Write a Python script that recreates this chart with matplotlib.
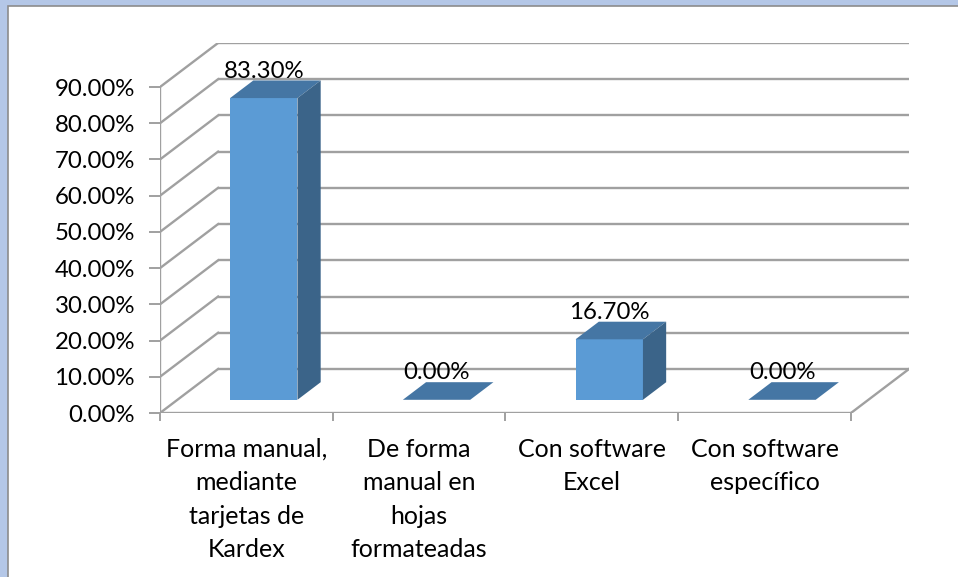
import numpy as np
import matplotlib
matplotlib.use("Agg")
import matplotlib.pyplot as plt
from matplotlib.patches import Polygon, Rectangle

plt.rcParams['font.family'] = ['Lato', 'DejaVu Sans']

categories = ["Forma manual,\nmediante\ntarjetas de\nKardex",
              "De forma\nmanual en\nhojas\nformateadas",
              "Con software\nExcel",
              "Con software\nespecífico"]
values = [83.30, 0.00, 16.70, 0.00]
value_labels = ["83.30%", "0.00%", "16.70%", "0.00%"]
yticks = [0, 10, 20, 30, 40, 50, 60, 70, 80, 90]
ytick_labels = ["0.00%", "10.00%", "20.00%", "30.00%", "40.00%",
                "50.00%", "60.00%", "70.00%", "80.00%", "90.00%"]

W, H = 958, 577
fig = plt.figure(figsize=(W / 100, H / 100), dpi=100)
fig.patch.set_facecolor('#B4C7E7')
bg = fig.add_axes([0, 0, 1, 1], zorder=-5)
bg.set_xlim(0, W)
bg.set_ylim(H, 0)
bg.axis('off')
bg.add_patch(Rectangle((8, 6), W, H, facecolor='white', edgecolor='#8C8C8C', lw=1.2))

# 3D projection parameters (data units)
DX = 0.336   # depth offset in category units
DY = 12.15   # depth offset in percent units
d0, d1 = 0.30, 0.70
bw = 0.39
n = len(categories)
ymax = yticks[-1]

left, right, bottom, top = 160 / W, 909 / W, (H - 413) / H, (H - 43) / H
ax = fig.add_axes([left, bottom, right - left, top - bottom], zorder=1)
ax.set_xlim(0, n + DX)
ax.set_ylim(0, ymax + DY)
ax.patch.set_alpha(0)
for s in ax.spines.values():
    s.set_visible(False)

gcol = '#A0A0A0'
glw = 1.7
for t in yticks:
    ax.plot([DX, n + DX], [t + DY, t + DY], color=gcol, lw=glw, zorder=1, solid_capstyle='butt')
    ax.plot([0, DX], [t, t + DY], color=gcol, lw=glw, zorder=1)
ax.plot([0, n], [0, 0], color=gcol, lw=glw, zorder=1)
ax.plot([n, n + DX], [0, DY], color=gcol, lw=glw, zorder=1)
ax.plot([0, 0], [0, ymax], color=gcol, lw=glw, zorder=1)

fs = 17.3
ax.set_yticks(yticks)
ax.set_yticklabels(ytick_labels, fontsize=fs)
ax.tick_params(axis='y', direction='out', length=8, width=1.4, color=gcol, pad=10)
ax.set_xticks(np.arange(n + 1))
ax.set_xticklabels([])
ax.tick_params(axis='x', which='major', direction='out', length=6, width=1.4, color=gcol)
ax.set_xticks(np.arange(n) + 0.5, minor=True)
ax.set_xticklabels(categories, minor=True, fontsize=18, linespacing=1.55)
ax.tick_params(axis='x', which='minor', length=0, pad=18)

front_c = '#5B9BD5'
top_c = '#4576A4'
side_c = '#3B6489'

xc = np.arange(n) + 0.5 + d0 * DX
base = d0 * DY
ax.bar(xc, values, width=bw, bottom=base, color=front_c, edgecolor='none', zorder=3)
ddx = (d1 - d0) * DX
ddy = (d1 - d0) * DY
for x, v, lab in zip(xc, values, value_labels):
    xl, xr = x - bw / 2, x + bw / 2
    ytop = base + v
    ax.add_patch(Polygon([[xl, ytop], [xr, ytop], [xr + ddx, ytop + ddy], [xl + ddx, ytop + ddy]],
                         closed=True, facecolor=top_c, edgecolor='none', zorder=4))
    if v > 0:
        ax.add_patch(Polygon([[xr, base], [xr + ddx, base + ddy], [xr + ddx, ytop + ddy], [xr, ytop]],
                             closed=True, facecolor=side_c, edgecolor='none', zorder=4))
    ax.text(x, ytop + ddy - 0.3, lab, ha='center', va='bottom', fontsize=fs, zorder=5)

fig.savefig('out.png', dpi=100, facecolor=fig.get_facecolor())
